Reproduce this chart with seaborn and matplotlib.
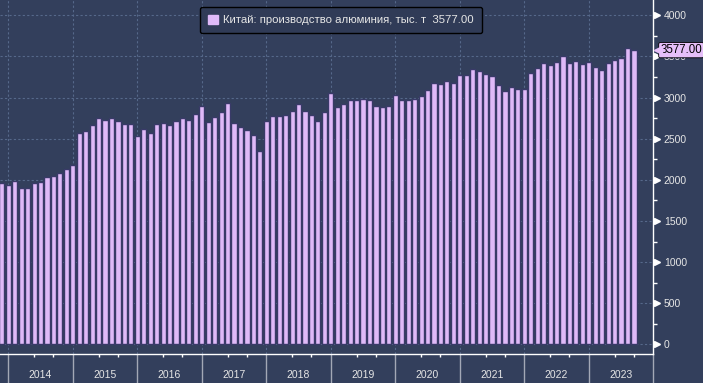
import numpy as np
import pandas as pd
import matplotlib
matplotlib.use("Agg")
import matplotlib.pyplot as plt
import matplotlib.transforms as mtransforms
from matplotlib.ticker import MultipleLocator
import seaborn as sns

# ---- data (monthly, China NBS publishes no separate Jan/Feb figures) ----
months = (["2013-11", "2013-12"]
          + [f"{y}-{m:02d}" for y in range(2014, 2023) for m in range(3, 13)]
          + [f"2023-{m:02d}" for m in range(3, 10)])
values = [1961, 1937,
          1986, 1900, 1900, 1961, 1974, 2034, 2047, 2083, 2132, 2181,   # 2014
          2569, 2594, 2667, 2752, 2728, 2752, 2716, 2679, 2679, 2533,   # 2015
          2618, 2569, 2679, 2691, 2667, 2716, 2752, 2728, 2801, 2898,   # 2016
          2703, 2764, 2825, 2934, 2691, 2643, 2606, 2545, 2351, 2716,   # 2017
          2776, 2776, 2789, 2837, 2922, 2837, 2789, 2716, 2825, 3056,   # 2018
          2886, 2922, 2971, 2971, 2983, 2971, 2898, 2886, 2898, 3032,   # 2019
          2971, 2971, 2983, 3020, 3093, 3178, 3166, 3202, 3178, 3275,   # 2020
          3275, 3348, 3324, 3287, 3263, 3154, 3081, 3129, 3105, 3105,   # 2021
          3299, 3360, 3421, 3397, 3433, 3506, 3421, 3445, 3409, 3433,   # 2022
          3372, 3336, 3421, 3457, 3482, 3603, 3577]                     # 2023
years = [str(y) for y in range(2014, 2024)]
y_ticks = [0, 500, 1000, 1500, 2000, 2500, 3000, 3500, 4000]
series_label = "Китай: производство алюминия, тыс. т  3577.00"
last_label = "3577.00"
last_value = values[-1]

BG = "#333f5c"
BAR = "#dfb9f8"
BAR_EDGE = "#393a68"
GRID = "#56688a"
TXT = "#e6e6e6"

sns.set_theme(style="dark")
plt.rcParams['font.family'] = ['Liberation Sans', 'DejaVu Sans']

fig = plt.figure(figsize=(7.03, 3.83), dpi=100)
fig.patch.set_facecolor(BG)
ax = fig.add_axes([0, 29 / 383, 653.3 / 703, 354 / 383])
ax.set_facecolor(BG)

df = pd.DataFrame({"month": months, "value": values})
sns.barplot(data=df, x="month", y="value", order=months, color=BAR,
            saturation=1, width=0.8, edgecolor=BAR_EDGE, linewidth=1.0,
            label=series_label, ax=ax, zorder=3)

n_years = len(years)
sep_pos = [1 + 10 * k for k in range(n_years + 1)]
centers = [6 + 10 * k for k in range(n_years)]
minor_pos = [1 + 10 * k + d for k in range(n_years) for d in (4, 7)]

ax.set_xlim(-0.287, 101.0)
ax.set_ylim(-118, 4187)
ax.set_xlabel("")
ax.set_ylabel("")

# x axis
ax.set_xticks(sep_pos, labels=[""] * len(sep_pos))
ax.set_xticks(minor_pos, minor=True)
ax.tick_params(axis="x", which="major", length=21, color="#a3a8b6",
               width=1, direction="out", bottom=True)
ax.tick_params(axis="x", which="minor", length=2.5, color="white",
               width=1, direction="out", bottom=True)
for lab, c in zip(years, centers):
    ax.text(c, -0.059, lab, transform=ax.get_xaxis_transform(),
            ha="center", va="center", fontsize=7.5, color=TXT)

# y axis on the right
ax.yaxis.tick_right()
ax.set_yticks(y_ticks)
ax.yaxis.set_minor_locator(MultipleLocator(250))
ax.tick_params(axis="y", which="major", length=0, pad=7.5,
               labelsize=7.5, labelcolor=TXT, right=True, left=False,
               labelright=True, labelleft=False)
ax.tick_params(axis="y", which="minor", length=3, color="white",
               width=1, direction="out", right=True, left=False)
tri_tr = mtransforms.offset_copy(ax.get_yaxis_transform(), fig=fig,
                                 x=3.5, y=0, units="dots")
ax.plot([1.0] * len(y_ticks), y_ticks, linestyle="none", marker=">",
        markersize=5, color="white", transform=tri_tr, clip_on=False,
        zorder=6)

# grid
ax.set_axisbelow(True)
ax.grid(axis="both", which="major", color=GRID, linestyle=(0, (2, 2)),
        linewidth=0.8)

# spines
for s in ("top", "left"):
    ax.spines[s].set_visible(False)
for s in ("right", "bottom"):
    ax.spines[s].set_visible(True)
    ax.spines[s].set_color("white")
    ax.spines[s].set_linewidth(1.0)

# last value tag
tag_tr = mtransforms.offset_copy(ax.get_yaxis_transform(), fig=fig,
                                 x=7, y=0, units="dots")
ax.text(1.0, last_value, last_label, transform=tag_tr, ha="left",
        va="center", fontsize=8.3, color="black", zorder=12, clip_on=False,
        bbox=dict(boxstyle="round,pad=0.14", fc="#e6bff9", ec="black",
                  lw=0.6))
arr_tr = mtransforms.offset_copy(ax.get_yaxis_transform(), fig=fig,
                                 x=5, y=0, units="dots")
ax.plot([1.0], [last_value], marker="<", markersize=6, color="#e6bff9",
        linestyle="none", transform=arr_tr, clip_on=False, zorder=13)

# legend
leg = ax.legend(loc="upper center", bbox_to_anchor=(0.522, 0.99),
                frameon=True, facecolor="#303b57", edgecolor="black",
                fontsize=8.2, labelcolor=TXT, handlelength=0.85,
                handleheight=0.85, handletextpad=0.5, borderpad=0.7,
                borderaxespad=0.3, fancybox=True, framealpha=1)
leg.get_frame().set_linewidth(1.0)
for h in leg.legend_handles:
    h.set_edgecolor(BAR)

fig.savefig("out.png", dpi=100, facecolor=BG)
